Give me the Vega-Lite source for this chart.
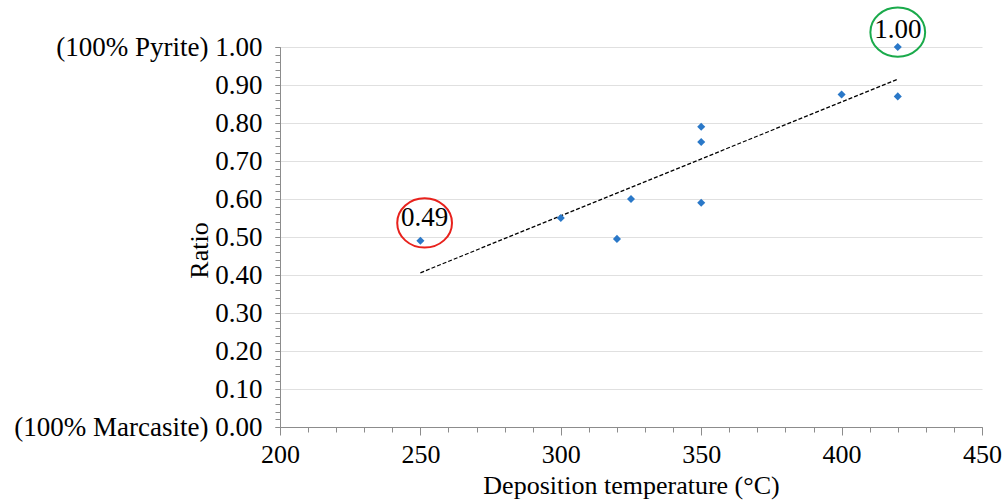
{
  "$schema": "https://vega.github.io/schema/vega-lite/v6.json",
  "width": 702,
  "height": 380,
  "autosize": {"type": "none"},
  "padding": {"left": 280, "top": 47, "right": 26, "bottom": 75},
  "config": {
    "view": {"stroke": null},
    "font": "Liberation Serif",
    "axis": {"labelFont": "Liberation Serif", "titleFont": "Liberation Serif", "labelColor": "#000", "titleColor": "#000", "titleFontWeight": "normal"}
  },
  "datasets": {
    "pts": [
      {"temp": 250, "ratio": 0.49},
      {"temp": 300, "ratio": 0.55},
      {"temp": 320, "ratio": 0.495},
      {"temp": 325, "ratio": 0.60},
      {"temp": 350, "ratio": 0.79},
      {"temp": 350, "ratio": 0.75},
      {"temp": 350, "ratio": 0.59},
      {"temp": 400, "ratio": 0.875},
      {"temp": 420, "ratio": 0.87},
      {"temp": 420, "ratio": 1.00}
    ],
    "notes": [
      {"temp": 251.5, "ratio": 0.537, "label": "0.49", "ring": "red", "ty": 0.55},
      {"temp": 420, "ratio": 1.039, "label": "1.00", "ring": "green", "ty": 1.045}
    ]
  },
  "resolve": {"axis": {"x": "independent", "y": "independent"}},
  "layer": [
    {
      "data": {"name": "pts"},
      "transform": [{"regression": "ratio", "on": "temp"}],
      "mark": {"type": "line", "color": "#000", "strokeWidth": 1.3, "strokeDash": [4, 2]},
      "encoding": {
        "x": {"field": "temp", "type": "quantitative", "scale": {"domain": [200, 450], "nice": false, "zero": false},
          "axis": {"orient": "bottom", "values": [200,210,220,230,240,250,260,270,280,290,300,310,320,330,340,350,360,370,380,390,400,410,420,430,440,450], "labels": false, "domain": false, "grid": false, "ticks": true, "tickSize": 5, "tickColor": "#8c8c8c", "title": null}},
        "y": {"field": "ratio", "type": "quantitative", "scale": {"domain": [0, 1], "nice": false},
          "axis": {"orient": "left", "values": [0,0.02,0.04,0.06,0.08,0.1,0.12,0.14,0.16,0.18,0.2,0.22,0.24,0.26,0.28,0.3,0.32,0.34,0.36,0.38,0.4,0.42,0.44,0.46,0.48,0.5,0.52,0.54,0.56,0.58,0.6,0.62,0.64,0.66,0.68,0.7,0.72,0.74,0.76,0.78,0.8,0.82,0.84,0.86,0.88,0.9,0.92,0.94,0.96,0.98,1], "labels": false, "domain": false, "grid": false, "tickSize": 5, "tickColor": "#8c8c8c", "title": null}}
      }
    },
    {
      "data": {"name": "pts"},
      "mark": {"type": "point", "shape": "diamond", "filled": true, "size": 65, "color": "#2a78c8", "opacity": 1},
      "encoding": {
        "x": {"field": "temp", "type": "quantitative",
          "axis": {"orient": "bottom", "values": [200, 250, 300, 350, 400, 450], "labelFlush": false, "tickSize": 8, "tickColor": "#8c8c8c", "domainColor": "#8c8c8c", "grid": false, "labelFontSize": 26, "labelPadding": 6, "title": "Deposition temperature (°C)", "titleFontSize": 26, "titlePadding": 5}},
        "y": {"field": "ratio", "type": "quantitative",
          "axis": {"orient": "left", "values": [0,0.1,0.2,0.3,0.4,0.5,0.6,0.7,0.8,0.9,1], "format": ".2f", "labelFlush": false, "labelLimit": 400,
            "labelExpr": "datum.value == 1 ? '(100% Pyrite) 1.00' : (datum.value == 0 ? '(100% Marcasite) 0.00' : datum.label)",
            "tickSize": 5, "tickColor": "#8c8c8c", "domainColor": "#8c8c8c", "grid": true, "gridColor": "#e0e0e0", "gridWidth": 1.2, "labelFontSize": 27, "labelPadding": 13,
            "title": "Ratio", "titleFontSize": 26, "titleX": -68, "titleY": 203}}
      }
    },
    {
      "data": {"name": "notes"},
      "mark": {"type": "text", "fontSize": 27, "font": "Liberation Serif", "color": "#000", "baseline": "middle"},
      "encoding": {
        "x": {"field": "temp", "type": "quantitative", "axis": null},
        "y": {"field": "ty", "type": "quantitative", "axis": null},
        "text": {"field": "label"}
      }
    },
    {
      "data": {"name": "notes"},
      "mark": {"type": "point", "shape": "M-1,0A1,0.9,0,1,1,1,0A1,0.9,0,1,1,-1,0Z", "filled": false, "size": 3000, "strokeWidth": 2, "opacity": 1},
      "encoding": {
        "x": {"field": "temp", "type": "quantitative", "axis": null},
        "y": {"field": "ratio", "type": "quantitative", "axis": null},
        "color": {"field": "ring", "type": "nominal", "scale": {"domain": ["red", "green"], "range": ["#e8211c", "#1aaa4b"]}, "legend": null}
      }
    }
  ]
}
